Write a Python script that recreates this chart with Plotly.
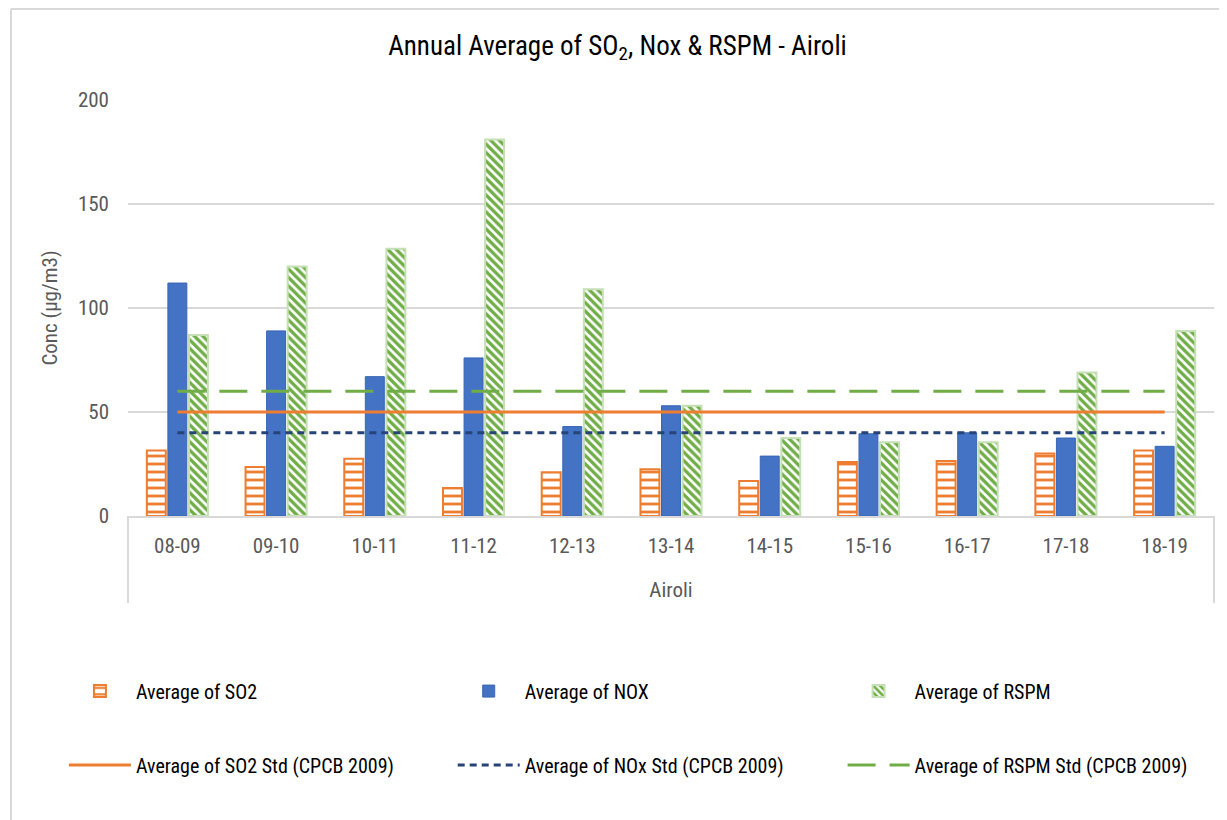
import plotly.graph_objects as go

years = ["08-09", "09-10", "10-11", "11-12", "12-13", "13-14",
         "14-15", "15-16", "16-17", "17-18", "18-19"]
so2 = [31.5, 23.5, 27.5, 13.5, 21, 22.5, 16.8, 26, 26.4, 30, 31.5]
nox = [112, 89, 67, 76, 43, 53, 28.8, 39.5, 40, 37.5, 33.5]
rspm = [87, 120, 128.5, 181, 109, 53, 37.5, 35.5, 35.5, 69, 89]
so2_std = [50] * len(years)
nox_std = [40] * len(years)
rspm_std = [60] * len(years)

FONT = "Liberation Sans Narrow, Arial Narrow, Roboto Condensed, Liberation Sans, sans-serif"
ORANGE = "#ED7D31"
BLUE = "#4472C4"
GREEN = "#70AD47"
NAVY = "#264478"

fig = go.Figure()

# one legend per column: bar on top row, its standard line below
fig.add_trace(go.Bar(
    x=years, y=so2, name="Average of SO2", legend="legend", legendgroup="a",
    marker=dict(color="white",
                line=dict(color=ORANGE, width=2),
                pattern=dict(shape="-", fgcolor=ORANGE, bgcolor="white",
                             fgopacity=1, size=8, solidity=0.35,
                             fillmode="replace")),
))
fig.add_trace(go.Bar(
    x=years, y=nox, name="Average of NOX", legend="legend2", legendgroup="b",
    marker=dict(color=BLUE, line=dict(color="#3A66B5", width=1)),
))
fig.add_trace(go.Bar(
    x=years, y=rspm, name="Average of RSPM", legend="legend3", legendgroup="c",
    marker=dict(color="white",
                line=dict(color="#C5E0B4", width=2),
                pattern=dict(shape="\\", fgcolor=GREEN, bgcolor="white",
                             fgopacity=1, size=6, solidity=0.55,
                             fillmode="replace")),
))
fig.add_trace(go.Scatter(
    x=years, y=so2_std, name="Average of SO2 Std (CPCB 2009)", mode="lines",
    legend="legend", legendgroup="d",
    line=dict(color=ORANGE, width=3),
))
fig.add_trace(go.Scatter(
    x=years, y=nox_std, name="Average of NOx Std (CPCB 2009)", mode="lines",
    legend="legend2", legendgroup="e",
    line=dict(color=NAVY, width=3, dash="7px,5px"),
))
fig.add_trace(go.Scatter(
    x=years, y=rspm_std, name="Average of RSPM Std (CPCB 2009)", mode="lines",
    legend="legend3", legendgroup="f",
    line=dict(color=GREEN, width=3, dash="28px,14px"),
))

legend_style = dict(y=-0.374, yanchor="top", xanchor="left",
                    itemwidth=62, traceorder="grouped", tracegroupgap=45,
                    bgcolor="rgba(0,0,0,0)",
                    font=dict(family=FONT, size=20, color="#000000"))

fig.update_layout(
    width=1219, height=812,
    paper_bgcolor="white", plot_bgcolor="white",
    font=dict(family=FONT, size=20, color="#595959"),
    title=dict(text="Annual Average of SO<sub>2</sub>, Nox & RSPM - Airoli",
               x=0.5, xanchor="center", y=0.954, yanchor="middle",
               font=dict(family=FONT, size=27, color="#000000")),
    margin=dict(l=120, r=13, t=92, b=304),
    barmode="group", bargap=0.36, bargroupgap=0.1,
    showlegend=True,
    legend=dict(x=-0.059, **legend_style),
    legend2=dict(x=0.299, **legend_style),
    legend3=dict(x=0.658, **legend_style),
)

fig.update_xaxes(
    type="category", showgrid=False, ticks="", showline=True,
    linecolor="#D9D9D9", linewidth=2, ticklabelstandoff=10,
    tickfont=dict(size=21, color="#595959"),
    title=dict(text="Airoli", font=dict(size=21, color="#595959"), standoff=25),
)
fig.update_yaxes(
    range=[0, 200], tickvals=[0, 50, 100, 150, 200],
    showgrid=True, gridcolor="#D9D9D9", gridwidth=2, zeroline=False,
    showline=False, ticks="", ticklabelstandoff=18,
    tickfont=dict(size=21, color="#595959"),
    title=dict(text="Conc (µg/m3)", font=dict(size=21, color="#595959"), standoff=14),
)

# multi-level category box and chart border
box_bottom = (508 - 595) / 416
for xp in (0, 1):
    fig.add_shape(type="line", xref="paper", yref="paper",
                  x0=xp, x1=xp, y0=0, y1=box_bottom,
                  line=dict(color="#D9D9D9", width=2))
left = (3 - 120) / 1086
top = 507 / 416
fig.add_shape(type="line", xref="paper", yref="paper",
              x0=left, x1=left, y0=top, y1=(508 - 812) / 416,
              line=dict(color="#D9D9D9", width=2))
fig.add_shape(type="line", xref="paper", yref="paper",
              x0=left, x1=1.02, y0=top, y1=top,
              line=dict(color="#D9D9D9", width=2))

fig.write_html("out.html")
